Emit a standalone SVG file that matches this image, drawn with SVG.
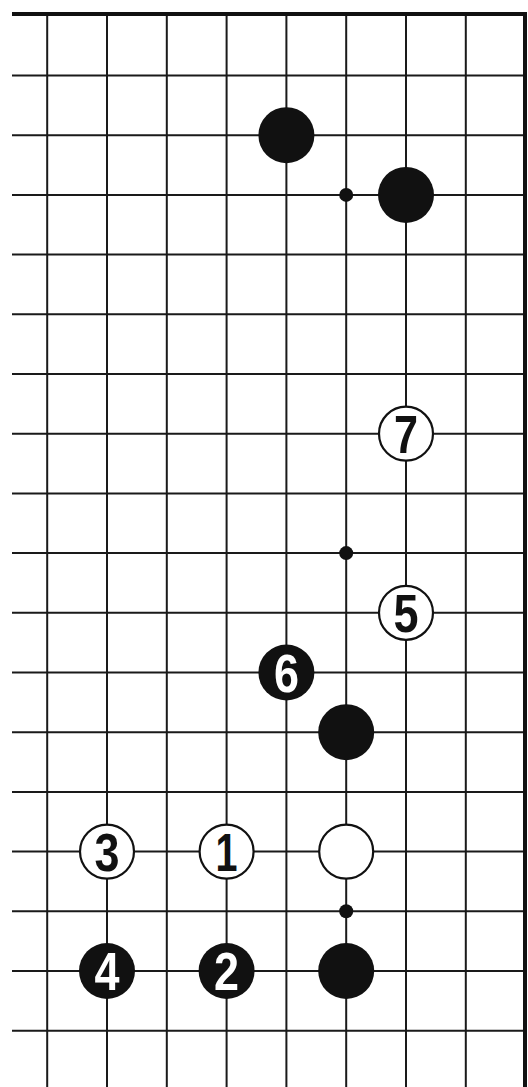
<svg xmlns="http://www.w3.org/2000/svg" width="528" height="1087" viewBox="0 0 528 1087">
<style>
.g{stroke:#1a1a1a;stroke-width:2;fill:none}
.edge{stroke:#111;stroke-width:4;fill:none}
.b{fill:#111}
.w{fill:#fff;stroke:#111;stroke-width:2.2}
.h{fill:#111}
.nb{font-family:"Liberation Sans",Arial,sans-serif;font-weight:bold;font-size:54px;fill:#fff;text-anchor:middle}
.nw{font-family:"Liberation Sans",Arial,sans-serif;font-weight:bold;font-size:54px;fill:#111;text-anchor:middle}
</style>
<rect width="528" height="1087" fill="#fff"/>
<g id="grid">
<g class="g">
<path d="M47.2 14V1087M107 14V1087M166.8 14V1087M226.6 14V1087M286.4 14V1087M346.2 14V1087M406 14V1087M465.8 14V1087"/>
<path d="M12 75.5H525M12 135.2H525M12 194.9H525M12 254.6H525M12 314.3H525M12 374H525M12 433.7H525M12 493.4H525M12 553.1H525M12 612.8H525M12 672.5H525M12 732.2H525M12 791.9H525M12 851.6H525M12 911.3H525M12 971H525M12 1030.7H525"/>
</g>
<path class="edge" d="M12 14H525V1087"/>
</g>
<g id="hoshi">
<circle class="h" cx="346.2" cy="194.9" r="7"/>
<circle class="h" cx="346.2" cy="553.1" r="7"/>
<circle class="h" cx="346.2" cy="911.3" r="7"/>
</g>
<g id="stone-b-a"><circle class="b" cx="286.4" cy="135.2" r="28"/></g>
<g id="stone-b-b"><circle class="b" cx="406" cy="194.9" r="28"/></g>
<g id="stone-w7"><circle class="w" cx="406" cy="433.7" r="27"/><text class="nw" x="406" y="453" textLength="24" lengthAdjust="spacingAndGlyphs">7</text></g>
<g id="stone-w5"><circle class="w" cx="406" cy="612.8" r="27"/><text class="nw" x="406" y="632.2" textLength="25" lengthAdjust="spacingAndGlyphs">5</text></g>
<g id="stone-b6"><circle class="b" cx="286.4" cy="672.5" r="28"/><text class="nb" x="286.4" y="691.9" textLength="25" lengthAdjust="spacingAndGlyphs">6</text></g>
<g id="stone-b-c"><circle class="b" cx="346.2" cy="732.2" r="28"/></g>
<g id="stone-w3"><circle class="w" cx="107" cy="851.6" r="27"/><text class="nw" x="107" y="871" textLength="25" lengthAdjust="spacingAndGlyphs">3</text></g>
<g id="stone-w1"><circle class="w" cx="226.6" cy="851.6" r="27"/><text class="nw" x="226.6" y="871" textLength="22" lengthAdjust="spacingAndGlyphs">1</text></g>
<g id="stone-w-a"><circle class="w" cx="346.2" cy="851.6" r="27"/></g>
<g id="stone-b4"><circle class="b" cx="107" cy="971" r="28"/><text class="nb" x="107" y="990.4" textLength="25" lengthAdjust="spacingAndGlyphs">4</text></g>
<g id="stone-b2"><circle class="b" cx="226.6" cy="971" r="28"/><text class="nb" x="226.6" y="990.4" textLength="25" lengthAdjust="spacingAndGlyphs">2</text></g>
<g id="stone-b-d"><circle class="b" cx="346.2" cy="971" r="28"/></g>
</svg>
